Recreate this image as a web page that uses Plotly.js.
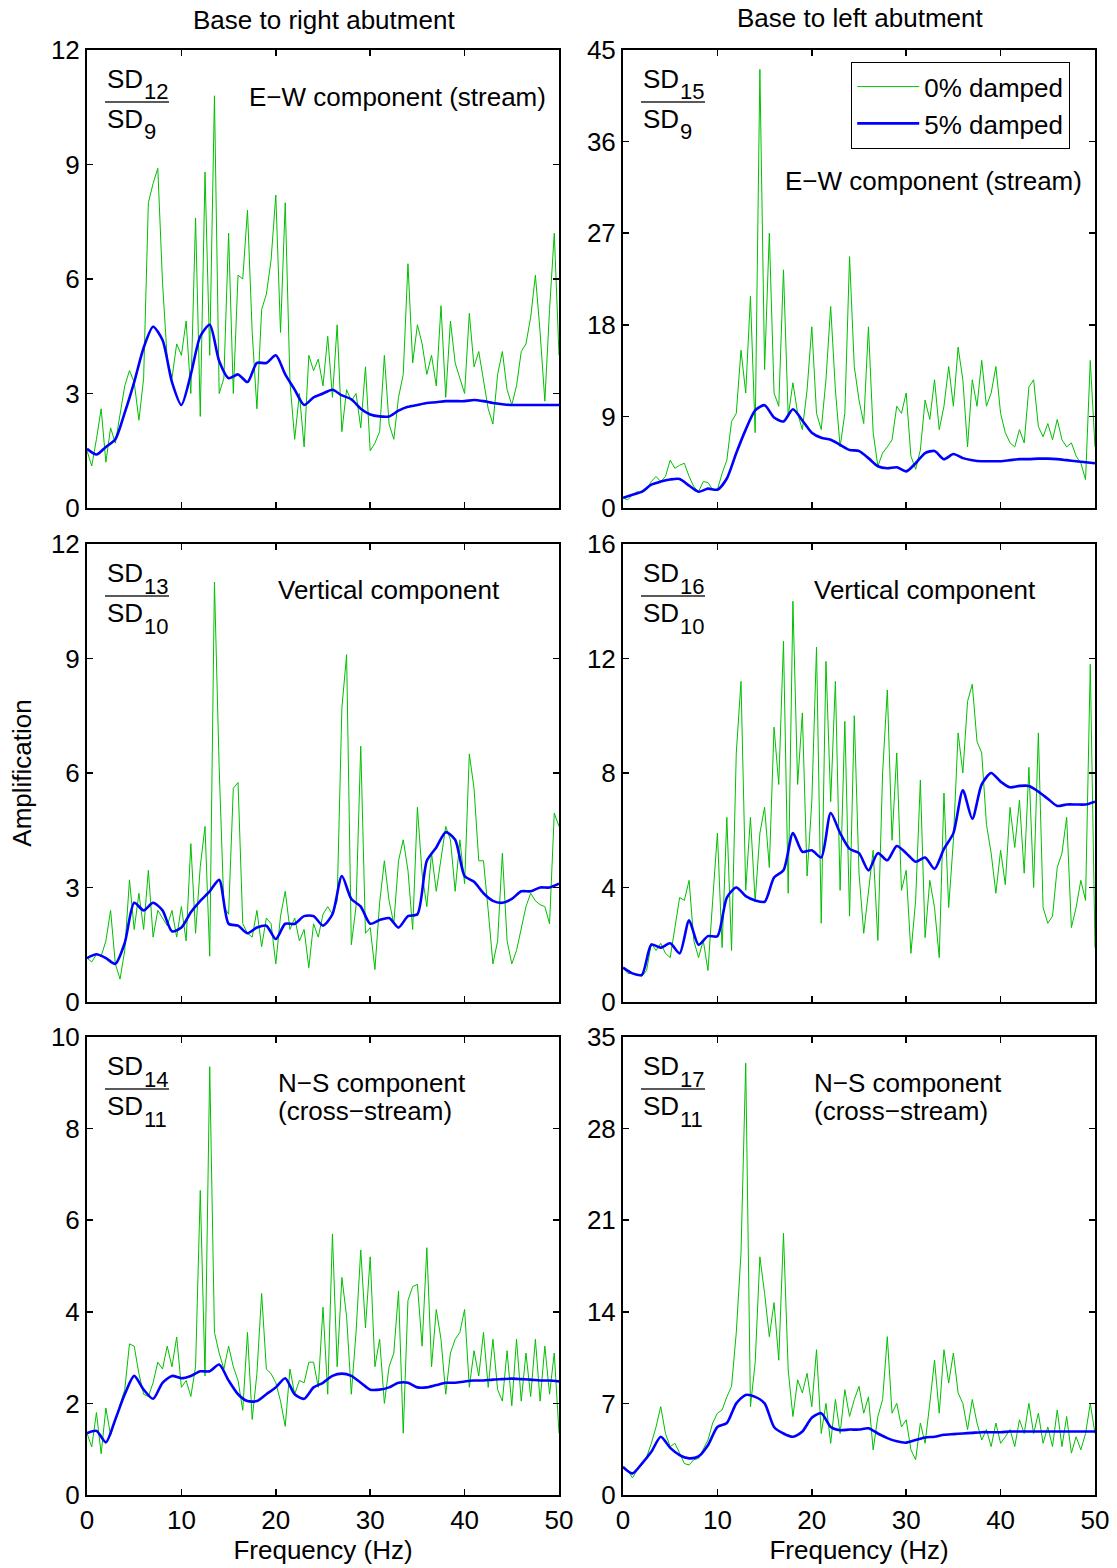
<!DOCTYPE html>
<html>
<head>
<meta charset="utf-8">
<script src="https://cdn.plot.ly/plotly-3.0.1.min.js"></script>
<style>html,body{margin:0;padding:0;background:#fff;}#chart{width:1117px;height:1568px;}</style>
</head>
<body>
<div id="chart"></div>
<script>
// ---------- DATA ----------
const freqG = [0,0.5,1,1.5,2,2.5,3,3.5,4,4.5,5,5.5,6,6.5,7,7.5,8,8.5,9,9.5,
10,10.5,11,11.5,12,12.5,13,13.5,14,14.5,15,15.5,16,16.5,17,17.5,18,18.5,19,19.5,
20,20.5,21,21.5,22,22.5,23,23.5,24,24.5,25,25.5,26,26.5,27,27.5,28,28.5,29,29.5,
30,30.5,31,31.5,32,32.5,33,33.5,34,34.5,35,35.5,36,36.5,37,37.5,38,38.5,39,39.5,
40,40.5,41,41.5,42,42.5,43,43.5,44,44.5,45,45.5,46,46.5,47,47.5,48,48.5,49,49.5,50];
const freqB = [0,1,2,3,4,5,6,7,8,9,10,11,12,13,14,15,16,17,18,19,20,21,22,23,24,25,
26,27,28,29,30,31,32,33,34,35,36,37,38,39,40,41,42,43,44,45,46,47,48,49,50];

const seriesNames = ['0% damped', '5% damped'];
const columnTitles = ['Base to right abutment', 'Base to left abutment'];
const componentLabels = [['E\u2212W component (stream)'], ['Vertical component'], ['N\u2212S component', '(cross\u2212stream)']];
const numerators = ['12', '15', '13', '16', '14', '17'];
const denominators = ['9', '9', '10', '10', '11', '11'];
const yMax = [12, 45, 12, 16, 10, 35];
const yStep = [3, 9, 3, 4, 2, 7];
const xTicks = [0, 10, 20, 30, 40, 50];

// SD12/SD9  E-W, base to right abutment
const ewRight0 = [1.5,1.1,1.8,2.6,1.2,2.1,1.7,2.5,3.2,3.6,
3.3,2.3,3.4,8.0,8.5,8.9,5.9,3.9,3.4,4.3,
4.0,4.9,3.0,7.6,2.4,8.8,4.0,10.8,3.0,3.4,
7.2,3.0,6.1,6.0,7.8,4.6,2.6,5.2,5.6,6.5,
8.2,4.6,8.0,3.3,1.8,3.0,1.6,4.0,3.6,3.9,
3.2,4.5,2.9,4.8,2.0,3.1,2.8,3.0,2.1,3.7,
1.5,1.7,2.0,4.0,2.2,1.8,2.9,3.5,6.4,3.8,
4.8,4.3,3.5,4.0,3.2,5.3,2.9,4.9,3.8,3.4,
3.0,5.1,3.7,4.1,3.3,2.6,2.2,3.5,4.1,3.1,
2.7,3.2,4.1,4.3,5.0,6.1,4.6,2.8,5.2,7.2,4.0];
const ewRight5 = [1.55,1.4,1.6,1.8,2.5,3.3,4.2,4.75,4.4,3.3,
2.7,3.5,4.5,4.8,3.85,3.4,3.5,3.3,3.8,3.8,
4.0,3.5,3.1,2.7,2.9,3.0,3.1,2.95,2.85,2.6,
2.45,2.4,2.4,2.55,2.65,2.7,2.75,2.77,2.8,2.8,
2.8,2.83,2.8,2.75,2.72,2.7,2.7,2.7,2.7,2.7,2.7];

// SD15/SD9  E-W, base to left abutment
const ewLeft0 = [1.0,0.8,1.3,1.6,1.5,1.8,2.6,3.1,2.6,3.1,
4.7,3.9,4.2,4.4,3.1,2.1,1.6,2.6,2.5,1.8,
1.8,3.4,4.7,8.5,9.3,15.5,11.3,20.8,7.4,43.1,
13.6,27.0,11.3,10.0,23.4,9.0,12.3,9.3,7.7,11.6,
17.8,9.3,7.7,12.6,19.8,11.6,6.0,9.3,24.7,13.9,
10.6,8.3,17.8,7.4,4.1,5.4,6.0,6.7,10.0,9.3,
11.3,5.1,3.8,5.7,10.6,8.7,12.6,7.7,10.0,13.9,
10.0,15.8,12.6,6.0,12.6,10.0,14.5,10.0,11.3,13.9,
9.3,7.4,6.4,6.0,7.7,6.4,11.9,12.6,8.0,7.0,
8.3,6.7,8.7,6.7,6.0,6.4,5.1,4.4,2.8,14.5,6.0];
const ewLeft5 = [1.0,1.3,1.6,2.3,2.6,2.8,2.85,2.2,1.6,1.9,
1.8,2.9,5.4,7.7,9.6,10.1,8.9,8.5,9.7,8.6,
7.4,6.9,6.7,6.2,5.7,5.6,4.9,4.1,3.9,4.0,
3.6,4.4,5.4,5.6,4.8,5.3,4.9,4.7,4.6,4.6,
4.6,4.7,4.8,4.8,4.85,4.85,4.8,4.7,4.6,4.5,4.4];

// SD13/SD10  vertical, base to right abutment
const vtRight0 = [1.15,1.05,1.25,1.2,1.6,2.4,1.0,0.6,1.35,3.2,
1.9,2.85,1.9,3.45,1.7,2.4,2.2,2.0,2.4,1.7,
2.5,1.6,4.15,1.8,3.55,4.6,1.2,11.0,6.15,2.5,
2.3,5.6,5.75,2.05,1.8,1.7,2.4,1.45,2.2,2.05,
1.0,2.25,2.9,1.9,2.2,1.6,1.9,0.9,2.05,1.7,
2.3,2.5,2.3,2.65,7.7,9.1,1.5,2.5,6.7,1.8,
1.95,0.85,2.6,3.7,2.65,2.05,3.7,4.25,3.45,1.9,
5.1,3.35,2.5,3.9,2.9,3.8,4.6,4.25,2.9,4.25,
3.1,6.5,5.6,3.7,3.7,2.4,1.0,1.6,3.9,1.6,
1.0,1.35,1.95,2.5,2.85,2.65,2.55,2.5,2.05,4.95,4.6];
const vtRight5 = [1.15,1.25,1.15,1.0,1.55,2.6,2.4,2.6,2.4,1.85,
1.95,2.35,2.65,2.9,3.2,2.05,2.0,1.8,1.95,2.0,
1.65,2.05,2.05,2.25,2.25,2.0,2.3,3.3,2.7,2.5,
2.05,2.15,2.2,1.95,2.25,2.3,3.7,4.05,4.45,4.25,
3.3,3.15,2.85,2.65,2.6,2.7,2.9,2.9,3.0,3.0,3.1];

// SD16/SD10  vertical, base to left abutment
const vtLeft0 = [1.2,1.0,1.0,0.95,0.9,1.1,2.05,1.8,2.05,1.7,
1.55,2.6,3.65,3.55,4.25,2.15,1.55,2.15,1.1,3.55,
5.9,1.9,6.45,1.8,8.7,11.2,3.9,6.45,3.5,5.9,
6.8,4.7,9.6,7.6,12.6,3.8,14.0,7.6,10.1,4.4,
7.0,12.4,2.75,11.9,7.0,11.2,3.9,9.8,3.0,10.0,
4.5,2.4,3.8,5.3,2.15,8.0,10.9,5.65,8.7,3.9,
4.6,1.7,3.55,7.75,2.25,4.25,3.3,1.55,7.3,3.3,
5.65,9.4,8.0,10.5,11.1,9.1,8.7,6.2,5.2,3.8,
5.3,4.1,6.8,5.4,7.05,4.5,8.2,4.0,9.4,3.3,
2.75,3.0,4.7,5.2,6.45,2.6,3.3,4.25,3.55,11.8,1.9];
const vtLeft5 = [1.2,1.0,0.95,2.0,1.9,2.05,1.7,2.85,2.0,2.3,
2.3,3.65,4.0,3.7,3.55,3.5,4.35,4.6,5.9,5.25,
5.3,5.05,6.6,5.9,5.35,5.2,4.6,5.2,4.95,5.45,
5.2,4.9,5.05,4.65,5.35,5.9,7.4,6.4,7.6,8.0,
7.7,7.5,7.55,7.55,7.35,7.1,6.85,6.9,6.9,6.9,7.0];

// SD14/SD11  N-S, base to right abutment
const nsRight0 = [1.35,1.05,1.8,0.9,1.9,1.3,1.65,1.95,2.3,3.3,
3.25,2.65,2.2,2.15,2.45,2.9,2.75,3.25,2.8,3.45,
2.35,2.5,2.15,2.8,6.65,2.6,9.35,3.55,3.1,2.75,
3.25,2.8,2.5,1.85,3.55,1.65,2.65,4.4,2.75,2.65,
2.45,2.05,1.5,2.75,2.2,2.5,2.45,2.9,2.9,2.35,
4.1,2.2,5.7,2.8,4.75,3.9,2.2,3.55,5.35,3.65,
5.2,2.8,3.4,2.0,2.8,3.1,4.45,1.35,4.25,4.55,
4.6,3.25,5.4,2.8,4.05,3.4,2.2,3.1,3.4,3.55,
4.05,2.35,3.15,2.6,3.55,2.35,3.4,2.3,2.05,3.15,
1.95,3.4,2.05,3.1,2.15,3.4,2.05,3.25,2.2,3.1,1.35];
const nsRight5 = [1.35,1.4,1.15,1.65,2.2,2.6,2.3,2.1,2.45,2.6,
2.55,2.6,2.7,2.7,2.85,2.5,2.2,2.05,2.05,2.2,
2.35,2.55,2.2,2.1,2.35,2.45,2.6,2.65,2.6,2.45,
2.3,2.3,2.35,2.45,2.45,2.35,2.35,2.4,2.45,2.45,
2.48,2.5,2.5,2.52,2.53,2.54,2.53,2.52,2.5,2.5,2.48];

// SD17/SD11  N-S, base to left abutment
const nsLeft0 = [2.15,1.9,1.3,1.9,2.3,2.9,3.95,5.2,6.75,4.7,
3.7,3.95,3.2,2.4,2.3,2.7,2.8,3.45,4.2,5.5,
6.25,6.5,7.5,8.3,12.4,18.5,33.0,6.75,10.1,18.2,
15.4,12.1,14.7,10.3,20.0,9.55,6.0,8.8,7.8,9.3,
6.75,11.1,4.7,7.0,3.95,7.3,4.7,8.05,6.0,7.3,
8.3,6.25,7.5,3.45,6.0,7.3,12.1,6.25,7.0,5.2,
5.75,3.45,2.7,5.5,3.95,7.0,10.3,6.25,11.1,8.55,
10.85,7.8,7.0,5.0,7.3,5.5,4.2,5.0,3.7,5.5,
3.95,4.45,5.0,3.7,5.75,4.7,7.0,4.7,6.25,3.95,
5.2,3.7,6.5,3.7,6.0,3.2,4.45,3.45,4.7,7.0,4.7];
const nsLeft5 = [2.15,1.65,2.4,3.3,4.45,3.6,3.05,2.8,2.95,3.8,
5.2,5.5,7.0,7.65,7.5,7.0,5.2,4.7,4.45,4.85,
5.9,6.25,5.2,4.95,5.0,5.0,5.1,4.7,4.35,4.1,
4.0,4.2,4.4,4.45,4.6,4.65,4.7,4.75,4.8,4.8,
4.8,4.85,4.85,4.85,4.85,4.85,4.85,4.85,4.85,4.85,4.85];

const undamped = [ewRight0, ewLeft0, vtRight0, vtLeft0, nsRight0, nsLeft0];
const damped = [ewRight5, ewLeft5, vtRight5, vtLeft5, nsRight5, nsLeft5];

// ---------- LAYOUT GEOMETRY (pixels) ----------
const W = 1117, H = 1568;
const FONT = 'Liberation Sans, Arial, Helvetica, sans-serif';
const FS = 26;
const colPx = [[87, 559], [623, 1095]];
const rowPx = [[50, 508], [544, 1002], [1037, 1495]];
const px = v => v / W;
const py = v => 1 - v / H;
const GREEN = '#00c000', BLUE = '#0000ff';
const txtFont = (s) => ({family: FONT, size: s, color: '#000'});

const traces = [];
const layout = {
  width: W, height: H,
  margin: {l: 0, r: 0, t: 0, b: 0},
  paper_bgcolor: '#fff', plot_bgcolor: '#fff',
  font: txtFont(FS),
  showlegend: true,
  legend: {
    x: px(851), y: py(62), xanchor: 'left', yanchor: 'top',
    bgcolor: '#fff', bordercolor: '#000', borderwidth: 1.2,
    font: txtFont(FS),
    itemwidth: 62, tracegroupgap: 0
  },
  annotations: [], shapes: []
};

function addText(x, y, text, size, xanchor, yanchor) {
  layout.annotations.push({
    xref: 'paper', yref: 'paper', x: px(x), y: py(y),
    xanchor: xanchor || 'left', yanchor: yanchor || 'middle', align: 'left',
    showarrow: false, text: text, font: txtFont(size), borderpad: 0
  });
}

for (let i = 0; i < 6; i++) {
  const r = Math.floor(i / 2), c = i % 2;
  const n = i + 1;
  const xa = 'x' + (n === 1 ? '' : n), ya = 'y' + (n === 1 ? '' : n);
  const xKey = 'xaxis' + (n === 1 ? '' : n), yKey = 'yaxis' + (n === 1 ? '' : n);
  const yTicks = [];
  for (let t = 0; t <= yMax[i] + 1e-9; t += yStep[i]) yTicks.push(t);

  layout[xKey] = {
    domain: [px(colPx[c][0]), px(colPx[c][1])],
    anchor: ya, range: [0, 50],
    tickmode: 'array', tickvals: xTicks, ticktext: xTicks.map(String),
    showticklabels: r === 2,
    ticks: 'inside', ticklen: 6, tickwidth: 1.5, tickcolor: '#000',
    showline: true, linecolor: '#000', linewidth: 2, mirror: 'ticks',
    showgrid: false, zeroline: false,
    tickfont: txtFont(FS),
    ticklabelstandoff: 1,
    fixedrange: true
  };
  if (r === 2) {
    layout[xKey].title = {text: 'Frequency (Hz)', font: txtFont(FS), standoff: 0};
  }
  layout[yKey] = {
    domain: [py(rowPx[r][1]), py(rowPx[r][0])],
    anchor: xa, range: [0, yMax[i]],
    tickmode: 'array', tickvals: yTicks, ticktext: yTicks.map(String),
    ticks: 'inside', ticklen: 6, tickwidth: 1.5, tickcolor: '#000',
    showline: true, linecolor: '#000', linewidth: 2, mirror: 'ticks',
    showgrid: false, zeroline: false,
    tickfont: txtFont(FS),
    ticklabelstandoff: 0,
    fixedrange: true
  };
  if (i === 2) {
    layout[yKey].title = {text: 'Amplification', font: txtFont(FS), standoff: 12};
  }

  traces.push({
    x: freqG, y: undamped[i], xaxis: xa, yaxis: ya, type: 'scatter', mode: 'lines',
    name: seriesNames[0], legendgroup: 'g0', showlegend: i === 1, legendrank: 1,
    line: {color: GREEN, width: 1}, hoverinfo: 'skip'
  });
  traces.push({
    x: freqB, y: damped[i], xaxis: xa, yaxis: ya, type: 'scatter', mode: 'lines',
    name: seriesNames[1], legendgroup: 'g1', showlegend: i === 1, legendrank: 2,
    line: {color: BLUE, width: 2.6, shape: 'spline', smoothing: 0.7}, hoverinfo: 'skip'
  });

  // SD fraction (SD_num over SD_den)
  const L = colPx[c][0], T = rowPx[r][0];
  addText(L + 19, T + 29, 'SD', FS);
  addText(L + 56, T + 42, numerators[i], 22);
  addText(L + 19, T + 69, 'SD', FS);
  addText(L + 56, T + 82, denominators[i], 22);
  layout.shapes.push({
    type: 'line', xref: 'paper', yref: 'paper',
    x0: px(L + 18), x1: px(L + 82), y0: py(T + 52), y1: py(T + 52),
    line: {color: '#222', width: 1.3}
  });

  // component label (one or two lines)
  let lx, ly;
  if (r === 0) { lx = L + 161; ly = c === 0 ? T + 47 : T + 131; }
  else { lx = L + 190; ly = T + 46; }
  componentLabels[r].forEach((line, k) => addText(lx, ly + 28 * k, line, FS));
}

// column titles
addText(324, 20, columnTitles[0], FS, 'center', 'middle');
addText(860, 18, columnTitles[1], FS, 'center', 'middle');

Plotly.newPlot('chart', traces, layout, {staticPlot: true, displayModeBar: false});
</script>
</body>
</html>
